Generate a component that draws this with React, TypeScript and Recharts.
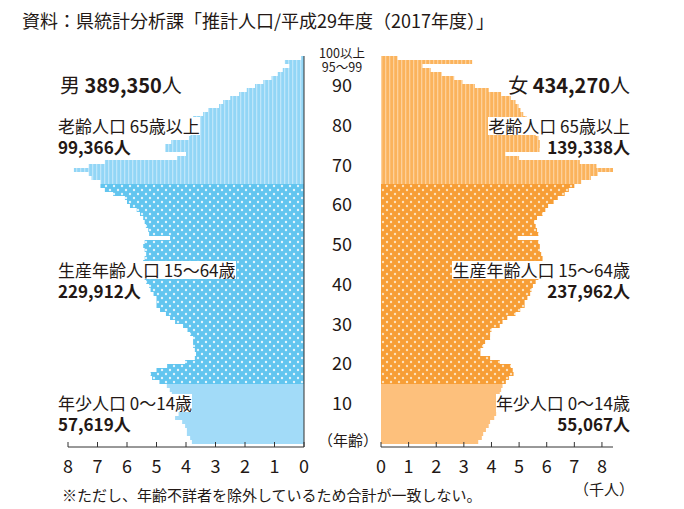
import React from "react"
import { BarChart, Bar, XAxis, YAxis, Cell } from "recharts"

// age categories: single years 0-94, then grouped
const ages = [...Array.from({ length: 95 }, (_, i) => String(i)), "95～99", "100以上"]

// male population by age (thousands), age 0 -> 100以上
const male = [
  3.8, 3.86, 3.97, 3.97, 4.03, 4.13, 4.37, 4.25, 4.3, 4.35,
  4.4, 4.48, 4.48, 4.55, 4.65, 4.9, 5.15, 5.2, 5.0, 4.64,
  4.03, 3.7, 3.66, 3.7, 3.76, 3.76, 3.76, 3.86, 3.95, 4.1,
  4.37, 4.54, 4.68, 4.88, 5.0, 5.0, 5.0, 5.1, 5.2, 5.25,
  5.35, 5.4, 5.45, 5.45, 5.45, 5.45, 5.4, 5.35, 5.4, 5.45,
  5.4, 4.54, 5.25, 5.28, 5.36, 5.4, 5.45, 5.56, 5.67, 5.9,
  6.0, 6.07, 6.47, 6.75, 6.9, 6.9, 7.2, 7.3, 7.8, 7.3,
  6.75, 4.3, 4.0, 4.7, 4.7, 4.5, 3.9, 3.85, 3.8, 3.8,
  3.76, 3.76, 3.42, 3.25, 2.88, 2.74, 2.5, 2.2, 1.94, 1.66,
  1.38, 1.1, 0.89, 0.72, 0.5, 0.65, 0.1,
]

// female population by age (thousands), age 0 -> 100以上
const female = [
  3.52, 3.65, 3.7, 3.8, 3.9, 3.95, 4.1, 4.17, 4.2, 4.25,
  4.25, 4.3, 4.3, 4.35, 4.4, 4.52, 4.63, 4.8, 4.77, 4.7,
  4.3, 3.95, 3.6, 3.6, 3.7, 3.77, 3.95, 3.95, 4.0, 4.3,
  4.4, 4.57, 4.87, 5.04, 5.2, 5.2, 5.3, 5.4, 5.45, 5.5,
  5.6, 5.7, 5.75, 5.8, 5.85, 5.85, 5.85, 5.8, 5.75, 5.75,
  5.7, 4.95, 5.7, 5.65, 5.6, 5.55, 5.65, 5.85, 5.95, 6.05,
  6.25, 6.4, 6.65, 6.8, 7.0, 7.25, 7.6, 7.85, 8.4, 7.8,
  7.2, 5.0, 4.5, 5.74, 5.75, 5.75, 5.7, 5.6, 5.5, 5.4,
  5.3, 5.27, 5.15, 5.05, 4.98, 4.87, 4.7, 4.35, 3.9, 3.4,
  2.95, 2.65, 2.2, 1.8, 1.5, 3.3, 0.6,
]

const countTicks = [0, 1, 2, 3, 4, 5, 6, 7, 8]
const ageTicks = ["10", "20", "30", "40", "50", "60", "70", "80", "90", "95～99", "100以上"]

const data = ages.map((age, i) => ({ age, male: male[i], female: female[i] }))

const FONT = "'Noto Sans CJK JP', sans-serif"
const INK = "#231815"

const group = (i: number) => (i < 15 ? "young" : i < 65 ? "work" : "old")

const AgeTick = (props: any) => {
  const { x, y, payload } = props
  const v = payload.value
  if (!ageTicks.includes(v)) return <g />
  const small = v === "95～99" || v === "100以上"
  const dy = v === "100以上" ? -6 : v === "95～99" ? 4 : (Number(v) - 10) * 0.025
  return (
    <text x={x + 38} y={y + dy} textAnchor="middle" dominantBaseline="central"
      fontSize={small ? 12.5 : 18} fill={INK} fontFamily={FONT}>
      {v}
    </text>
  )
}

const SideTick = (props: any) => {
  const { x, y } = props
  return <line x1={x} x2={x + 2} y1={y} y2={y} stroke="#444" strokeWidth={0.8} />
}

const CountTick = (props: any) => {
  const { x, y, payload } = props
  return (
    <g>
      <line x1={x} x2={x} y1={y} y2={y - 5} stroke="#333" />
      <text x={x} y={y + 18} textAnchor="middle" dominantBaseline="central"
        fontSize={18} fill={INK} fontFamily={FONT}>
        {payload.value}
      </text>
    </g>
  )
}

function Patterns({ p }: { p: string }) {
  const c = p === "m"
    ? { work: "#62c5ef", dot: "#e4f5fd", old: "#92d6f6", stripe: "#bde6fa" }
    : { work: "#f79e36", dot: "#fde2bd", old: "#fbb35c", stripe: "#fdd09a" }
  return (
    <defs>
      <pattern id={p + "-work"} width="8" height="8" patternUnits="userSpaceOnUse">
        <rect width="8" height="8" fill={c.work} />
        <circle cx="2" cy="2" r="1.2" fill={c.dot} />
        <circle cx="6" cy="6" r="1.2" fill={c.dot} />
      </pattern>
      <pattern id={p + "-old"} width="4" height="4" patternUnits="userSpaceOnUse">
        <rect width="4" height="4" fill={c.old} />
        <rect width="1.3" height="4" fill={c.stripe} />
      </pattern>
    </defs>
  )
}

const label: React.CSSProperties = {
  position: "absolute",
  fontFamily: FONT,
  color: INK,
  background: "#fff",
  whiteSpace: "nowrap",
  lineHeight: "18px",
  fontSize: 17,
}

function Txt({ x, y, right, size = 17, bold, children }: any) {
  const s: React.CSSProperties = { ...label, top: y - 9, fontSize: size, fontWeight: bold ? 700 : 400 }
  if (right) s.right = 684 - x
  else s.left = x
  return <div style={s}>{children}</div>
}

export default function App() {
  return (
    <div style={{ position: "absolute", left: 0, top: 0, width: 684, height: 509, background: "#fff", overflow: "hidden" }}>
      <div style={{ ...label, left: 22, top: 9, fontSize: 18, lineHeight: "22px" }}>
        資料：県統計分析課「推計人口/平成29年度（2017年度）」
      </div>

      <div style={{ position: "absolute", left: 0, top: 0 }}>
        <BarChart width={381} height={509} data={data} layout="vertical" barCategoryGap={0}
          margin={{ top: 56, right: 0, bottom: 22, left: 68 }}>
          <Patterns p="m" />
          <XAxis type="number" domain={[0, 8]} ticks={countTicks} reversed height={40} interval={0}
            axisLine={{ stroke: "#333" }} tickLine={false} tickSize={0} tickMargin={0} tick={<CountTick />} />
          <YAxis type="category" dataKey="age" orientation="right" reversed width={77}
            padding={{ top: 0, bottom: 3 }} interval={0}
            axisLine={{ stroke: "#333" }} tickLine={false} tickSize={0} tickMargin={0} tick={<AgeTick />} />
          <Bar dataKey="male" isAnimationActive={false}>
            {data.map((d, i) => (
              <Cell key={d.age} fill={group(i) === "young" ? "#a2dbf8" : `url(#m-${group(i)})`} />
            ))}
          </Bar>
        </BarChart>
      </div>

      <div style={{ position: "absolute", left: 361, top: 0 }}>
        <BarChart width={271} height={509} data={data} layout="vertical" barCategoryGap={0}
          margin={{ top: 56, right: 19, bottom: 22, left: 20 }}>
          <Patterns p="f" />
          <XAxis type="number" domain={[0, 8]} ticks={countTicks} height={40} interval={0}
            axisLine={{ stroke: "#333" }} tickLine={false} tickSize={0} tickMargin={0} tick={<CountTick />} />
          <YAxis type="category" dataKey="age" orientation="left" reversed width={0}
            padding={{ top: 0, bottom: 3 }} interval={0}
            axisLine={{ stroke: "#333" }} tickLine={false} tickSize={0} tickMargin={0} tick={<SideTick />} />
          <Bar dataKey="female" isAnimationActive={false}>
            {data.map((d, i) => (
              <Cell key={d.age} fill={group(i) === "young" ? "#fdc07c" : `url(#f-${group(i)})`} />
            ))}
          </Bar>
        </BarChart>
      </div>

      <div style={{ ...label, left: 318, top: 431, fontSize: 15, background: "transparent" }}>（年齢）</div>

      <Txt x={60} y={85} size={20}>男 <b>389,350</b>人</Txt>
      <Txt x={630} y={85} size={20} right>女 <b>434,270</b>人</Txt>

      <Txt x={58} y={126}>老齢人口 65歳以上</Txt>
      <Txt x={58} y={147} bold>99,366人</Txt>
      <Txt x={630} y={126} right>老齢人口 65歳以上</Txt>
      <Txt x={630} y={147} bold right>139,338人</Txt>

      <Txt x={58} y={270}>生産年齢人口 15～64歳</Txt>
      <Txt x={58} y={291} bold>229,912人</Txt>
      <Txt x={630} y={270} right>生産年齢人口 15～64歳</Txt>
      <Txt x={630} y={291} bold right>237,962人</Txt>

      <Txt x={58} y={403}>年少人口 0～14歳</Txt>
      <Txt x={58} y={424} bold>57,619人</Txt>
      <Txt x={630} y={403} right>年少人口 0～14歳</Txt>
      <Txt x={630} y={424} bold right>55,067人</Txt>

      <div style={{ ...label, left: 574, top: 480, fontSize: 15 }}>（千人）</div>
      <div style={{ ...label, left: 62, top: 486, fontSize: 15 }}>
        ※ただし、年齢不詳者を除外しているため合計が一致しない。
      </div>
    </div>
  )
}
